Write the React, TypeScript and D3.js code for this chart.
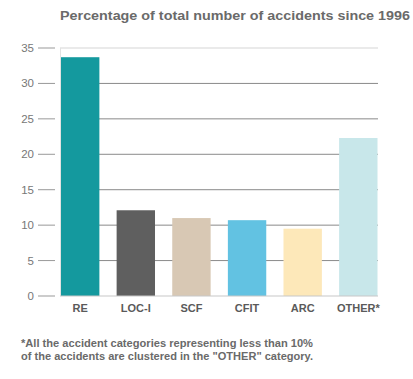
import React from "react";
import * as d3 from "d3";

const categories = ["RE", "LOC-I", "SCF", "CFIT", "ARC", "OTHER*"];
const values = [33.7, 12.1, 11.0, 10.7, 9.5, 22.3];
const colors = ["#14999e", "#5f5f5f", "#d8c8b4", "#62c2e2", "#fde8b9", "#c8e7ea"];
const yTicks = [0, 5, 10, 15, 20, 25, 30, 35];
const title = "Percentage of total number of accidents since 1996";
const footnote = [
  "*All the accident categories representing less than 10%",
  "of the accidents are clustered in the \"OTHER\" category.",
];

export default function App() {
  const W = 413, H = 379;
  const x = d3.scaleBand<string>().domain(categories).range([61, 377.5]).paddingInner(0.31).paddingOuter(0);
  const y = d3.scaleLinear().domain([0, 35]).range([296, 48]);
  const font = "'Liberation Sans', Arial, sans-serif";
  return (
    <svg width={W} height={H} style={{ position: "absolute", left: 0, top: 0, background: "#fff" }} fontFamily={font}>
      <text x={60} y={20} fontSize={13.5} fontWeight="bold" fill="#6a6a6a" textLength={350} lengthAdjust="spacingAndGlyphs">{title}</text>
      {yTicks.map((t) => (
        <g key={t}>
          <line x1={38} x2={55} y1={y(t)} y2={y(t)} stroke="#999" strokeWidth={1} />
          <text x={34} y={y(t)} dy="0.35em" textAnchor="end" fontSize={11.5} fill="#777">{t}</text>
          {t > 0 && t < 35 && (
            <line x1={60} x2={378} y1={y(t)} y2={y(t)} stroke="#8a8a8a" strokeWidth={1} />
          )}
        </g>
      ))}
      <line x1={60} x2={378} y1={y(35)} y2={y(35)} stroke="#d6d6d6" strokeWidth={1.2} />
      <line x1={60.5} x2={60.5} y1={y(35)} y2={y(0)} stroke="#e2e2e2" strokeWidth={1} />
      {categories.map((c, i) => (
        <rect key={c} x={x(c)} y={y(values[i])} width={x.bandwidth()} height={y(0) - y(values[i])} fill={colors[i]} />
      ))}
      <line x1={60} x2={378} y1={y(0)} y2={y(0)} stroke="#c8c8c8" strokeWidth={1.2} />
      {categories.map((c) => (
        <text key={c} x={(x(c) as number) + x.bandwidth() / 2} y={312} textAnchor="middle" fontSize={11} fontWeight="bold" fill="#5a5a5a">{c}</text>
      ))}
      {footnote.map((l, i) => (
        <text key={i} x={21} y={347 + i * 13} fontSize={10.5} fontWeight="bold" fill="#6a6a6a" textLength={292} lengthAdjust="spacingAndGlyphs">{l}</text>
      ))}
    </svg>
  );
}
